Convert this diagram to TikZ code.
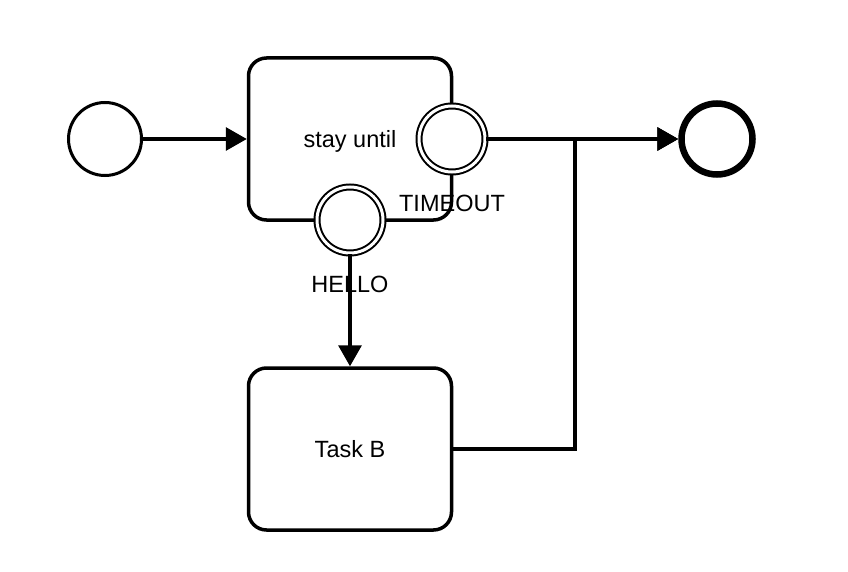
\documentclass[tikz,border=0pt]{standalone}
\usepackage{fontspec}
\setmainfont{Liberation Sans}
\usetikzlibrary{arrows.meta}

\begin{document}
\begin{tikzpicture}[
    x=1pt, y=-1pt,
    every node/.style={font=\fontsize{23.5}{28}\selectfont},
    startevent/.style={circle, draw, line width=3pt, minimum size=73pt, inner sep=0pt},
    endevent/.style={circle, draw, line width=6.5pt, minimum size=71pt, inner sep=0pt},
    boundary/.style={circle, draw, fill=white, line width=2pt, double, double distance=3pt, minimum size=66pt, inner sep=0pt},
    task/.style={rectangle, draw, rounded corners=18pt, line width=3.5pt, minimum width=203pt, minimum height=162pt, inner sep=0pt, text height=17pt, text depth=0pt},
    flow/.style={line width=3.2pt, -{Triangle[length=21pt,width=23pt]}}
]
\useasboundingbox (0,0) rectangle (848,572);

% Events and tasks
\node[startevent] (start) at (105, 139) {};
\node[task] (stay) at (350, 139) {stay until};
\node[task] (taskb) at (350, 449) {Task B};
\node[endevent] (end) at (717, 139) {};

% Boundary events
\node[boundary] (timeout) at (452, 139) {};
\node[boundary] (hello) at (350, 220) {};
\coordinate (join) at (575, 139);

% Sequence flows
\draw[flow] (start) -- (stay);
\draw[flow] (timeout) -- (end);
\draw[flow] (hello) -- (taskb);
\draw[flow] (taskb) -| (join) -- (end);

% Labels
\node at (452, 203) {TIMEOUT};
\node at (350, 284) {HELLO};

\end{tikzpicture}
\end{document}
